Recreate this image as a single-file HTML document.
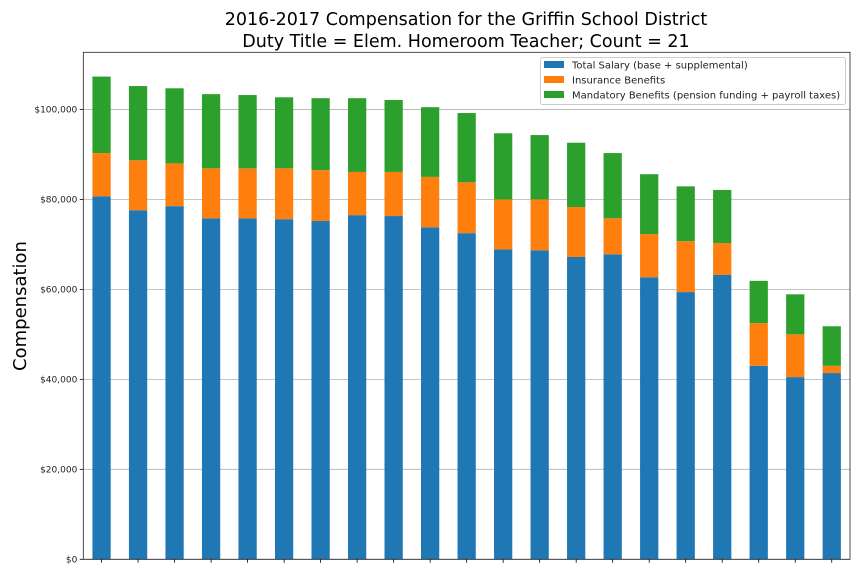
<!DOCTYPE html>
<html><head><meta charset="utf-8"><style>
html,body{margin:0;padding:0;background:#fff;}
svg{display:block;font-family:"DejaVu Sans","Liberation Sans",sans-serif;}
</style></head><body>
<svg id="chart" width="864" height="576" viewBox="0 0 864 576" xmlns="http://www.w3.org/2000/svg">
<text x="466" y="25" text-anchor="middle" font-size="17.5" fill="#000">2016-2017 Compensation for the Griffin School District</text>
<text x="466" y="47" text-anchor="middle" font-size="17.5" fill="#000">Duty Title = Elem. Homeroom Teacher; Count = 21</text>
<text transform="translate(26,306) rotate(-90)" text-anchor="middle" font-size="18" fill="#000">Compensation</text>
<g id="grid"></g>
<g id="bars"></g>
<g id="axes"></g>
<g>
<rect x="540.5" y="57.5" width="305" height="47" fill="#fff" fill-opacity="0.8" stroke="#ccc" rx="2"/>
<rect x="544" y="61" width="20" height="7" fill="#1f77b4"/>
<text x="572" y="68.5" font-size="10" fill="#222">Total Salary (base + supplemental)</text>
<rect x="544" y="76" width="20" height="7" fill="#ff7f0e"/>
<text x="572" y="83.5" font-size="10" fill="#222">Insurance Benefits</text>
<rect x="544" y="91" width="20" height="7" fill="#2ca02c"/>
<text x="572" y="98.5" font-size="10" fill="#222">Mandatory Benefits (pension funding + payroll taxes)</text>
</g>
</svg>
<script>
const salary = [80.7,77.6,78.5,75.8,75.8,75.6,75.2,76.5,76.3,73.8,72.5,68.9,68.7,67.2,67.8,62.7,59.4,63.2,43.0,40.5,41.4];
const salaryPlusIns = [90.3,88.7,88.0,86.9,86.9,86.9,86.5,86.1,86.1,85.0,83.8,80.0,80.0,78.3,75.8,72.3,70.7,70.3,52.5,50.0,43.0];
const totals = [107.3,105.2,104.7,103.4,103.2,102.7,102.5,102.5,102.1,100.5,99.2,94.7,94.3,92.6,90.3,85.6,82.9,82.1,61.9,58.9,51.8];
const yTicks = [0,20000,40000,60000,80000,100000];
const yTickLabels = ["$0","$20,000","$40,000","$60,000","$80,000","$100,000"];

const NS="http://www.w3.org/2000/svg";
const L=83.3,R=850,T=52.3,B=559.3,YMAX=112700;
const n=totals.length, step=(R-L)/n, bw=step*0.5;
const y=v=>B-(v/YMAX)*(B-T);
const x=i=>L+step*(i+0.5);
function mk(tag,attrs,parent){const e=document.createElementNS(NS,tag);for(const k in attrs)e.setAttribute(k,attrs[k]);parent.appendChild(e);return e;}
const grid=document.getElementById('grid'),bars=document.getElementById('bars'),axes=document.getElementById('axes');
yTicks.forEach((t,i)=>{
  const g=mk('line',{x1:L,x2:R,y1:y(t),y2:y(t),stroke:'#b0b0b0','stroke-width':0.8},grid);
  
  
  const tk=mk('line',{x1:L-3.5,x2:L,y1:y(t),y2:y(t),stroke:'#000','stroke-width':0.8},axes);
  
  
  const tx=mk('text',{x:L-6,y:y(t)+3.3,'text-anchor':'end','font-size':9,fill:'#222'},axes);
  tx.textContent=yTickLabels[i];
  
  
});
for(let i=0;i<n;i++){
  const cx=x(i);
  const s=mk('rect',{x:cx-bw/2,y:y(salary[i]*1000),width:bw,height:B-y(salary[i]*1000),fill:'#1f77b4'},bars);
  
  
  const ins=mk('rect',{x:cx-bw/2,y:y(salaryPlusIns[i]*1000),width:bw,height:y(salary[i]*1000)-y(salaryPlusIns[i]*1000),fill:'#ff7f0e'},bars);
  
  
  const m=mk('rect',{x:cx-bw/2,y:y(totals[i]*1000),width:bw,height:y(salaryPlusIns[i]*1000)-y(totals[i]*1000),fill:'#2ca02c'},bars);
  
  
  const tk=mk('line',{x1:cx,x2:cx,y1:B,y2:B+3.5,stroke:'#000','stroke-width':0.8},axes);
  
  
}
const fr=mk('rect',{x:L,y:T,width:R-L,height:B-T,fill:'none',stroke:'#222','stroke-width':0.8},axes);


</script>
</body></html>
